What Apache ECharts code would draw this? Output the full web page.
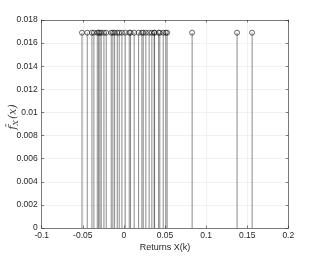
<!DOCTYPE html>
<html><head><meta charset="utf-8">
<script src="https://cdn.jsdelivr.net/npm/echarts@6/dist/echarts.min.js"></script>
<style>html,body{margin:0;padding:0;background:#fff}#c{width:318px;height:256px}</style>
</head><body><div id="c"></div>
<script>
const returnsX = [-0.051,-0.0446,-0.0389,-0.0365,-0.0324,-0.0308,-0.0292,-0.0276,-0.0243,-0.0215,-0.0154,-0.0134,-0.0113,
  -0.0081,-0.0057,-0.0024,0.0016,0.0065,0.0081,0.0125,0.0179,0.0219,0.0235,0.0267,0.0307,0.034,0.0368,
  0.0373,0.0422,0.0437,0.0478,0.051,0.0526,0.083,0.1377,0.156];
const density = returnsX.map(() => 0.0169);
const xTicks = [-0.1,-0.05,0,0.05,0.1,0.15,0.2];
const yTicks = [0,0.002,0.004,0.006,0.008,0.01,0.012,0.014,0.016,0.018];

const pts = returnsX.map((x,i)=>[x,density[i]]);
const font = 'Liberation Sans, Arial, sans-serif';
const axisCol = '#262626';
const chart = echarts.init(document.getElementById('c'), null, {renderer:'canvas'});
const common = {
  axisLine:{show:true,onZero:false,lineStyle:{color:axisCol,width:0.6}},
  axisTick:{show:true,inside:true,length:2.5,lineStyle:{color:axisCol,width:0.6}},
};
chart.setOption({
  animation:false,
  grid:{left:41.7,right:29.7,top:20,bottom:28,containLabel:false,outerBoundsMode:'none'},
  xAxis:[{type:'value',min:-0.1,max:0.2,interval:0.05,position:'bottom',...common,
    axisLabel:{color:axisCol,fontFamily:font,fontSize:8.5,margin:3.5,formatter:v=>String(+v.toFixed(4))},
    splitLine:{show:true,lineStyle:{color:'#e8e8e8',width:0.6}},
    name:'Returns X(k)',nameLocation:'middle',nameGap:15,nameMoveOverlap:false,nameTextStyle:{color:axisCol,fontFamily:font,fontSize:9}},
   {type:'value',min:-0.1,max:0.2,interval:0.05,position:'top',...common,axisLabel:{show:false},splitLine:{show:false}}],
  yAxis:[{type:'value',min:0,max:0.018,interval:0.002,position:'left',...common,
    axisLabel:{color:axisCol,fontFamily:font,fontSize:8.5,margin:4,formatter:v=>String(+v.toFixed(4))},
    splitLine:{show:true,lineStyle:{color:'#e8e8e8',width:0.6}},
    name:'{f|f̂}{s|X}{f|(x)}',nameLocation:'middle',nameGap:29,nameRotate:90,nameMoveOverlap:false,
    nameTextStyle:{color:axisCol,align:'center',verticalAlign:'middle',padding:[0,0,0,14],rich:{f:{fontFamily:'DejaVu Serif, serif',fontStyle:'italic',fontSize:11,color:'#444'},s:{fontFamily:'DejaVu Serif, serif',fontStyle:'italic',fontSize:8,color:'#444',padding:[7,1,0,0]}}}},
   {type:'value',min:0,max:0.018,interval:0.002,position:'right',...common,axisLabel:{show:false},splitLine:{show:false}}],
  series:[
    {type:'custom',data:pts,renderItem:(params,api)=>{
      const top = api.coord([api.value(0),api.value(1)]);
      const bot = api.coord([api.value(0),0]);
      return {type:'line',shape:{x1:bot[0],y1:bot[1],x2:top[0],y2:top[1]},style:{stroke:'#3a3a3a',lineWidth:0.6}};
    },z:2},
    {type:'scatter',data:pts,symbol:'circle',symbolSize:5,itemStyle:{color:'rgba(0,0,0,0)',borderColor:'#111',borderWidth:0.8},z:3}
  ]
});
</script></body></html>
